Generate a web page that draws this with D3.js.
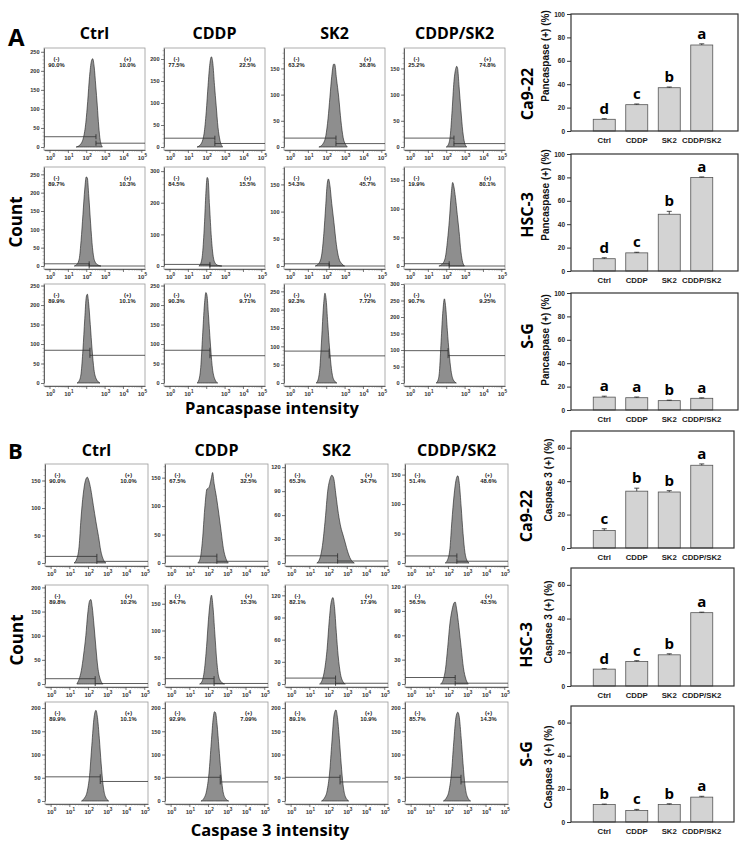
<!DOCTYPE html>
<html>
<head>
<meta charset="utf-8">
<script src="https://cdn.jsdelivr.net/npm/d3@7"></script>
<style>
  body { margin: 0; background: #fff; }
  svg { display: block; }
</style>
</head>
<body>
<svg id="fig" width="746" height="847"></svg>
<script>
// ---- data ----
const treatments = ["Ctrl", "CDDP", "SK2", "CDDP/SK2"];
const cellLines = ["Ca9-22", "HSC-3", "S-G"];

const pancaspaseMean = [[10, 22.5, 37, 73.5], [10.5, 15.5, 48.5, 80], [11, 10.5, 8, 10]];
const pancaspaseErr = [[0.5, 0.6, 0.6, 1.0], [0.8, 0.5, 2.5, 0.4], [0.8, 0.6, 0.4, 0.4]];
const pancaspaseLetters = [["d", "c", "b", "a"], ["d", "c", "b", "a"], ["a", "a", "b", "a"]];
const pancaspaseTicks = [0, 20, 40, 60, 80, 100];

const caspase3Mean = [[10.5, 34, 33.5, 49.5], [10, 14.5, 18.5, 43.5], [10.5, 7, 10.5, 15]];
const caspase3Err = [[1.0, 1.8, 0.8, 0.8], [0.3, 0.5, 0.6, 0.3], [0.3, 0.6, 0.5, 0.5]];
const caspase3Letters = [["c", "b", "b", "a"], ["d", "c", "b", "a"], ["b", "c", "b", "a"]];
const caspase3Ticks = [0, 20, 40, 60];

// histograms: [log10 intensity, count]
const histPancaspase = [
  [
    [[1.45,0],[1.65,5],[1.85,25],[1.98,65],[2.08,120],[2.18,185],[2.28,225],[2.35,232],[2.43,212],[2.52,160],[2.6,110],[2.68,55],[2.76,18],[2.88,0]],
    [[1.5,0],[1.7,6],[1.88,30],[2.0,80],[2.1,140],[2.2,190],[2.28,205],[2.36,190],[2.45,140],[2.54,95],[2.64,45],[2.75,15],[2.9,0]],
    [[1.6,0],[1.8,5],[1.98,22],[2.1,55],[2.2,95],[2.3,135],[2.4,158],[2.46,158],[2.56,130],[2.68,95],[2.8,50],[2.92,18],[3.05,5],[3.15,0]],
    [[2.0,0],[2.12,5],[2.22,22],[2.32,70],[2.42,125],[2.52,150],[2.57,154],[2.62,150],[2.7,115],[2.8,70],[2.9,30],[3.0,8],[3.12,0]]
  ],
  [
    [[1.35,0],[1.5,5],[1.62,20],[1.72,70],[1.82,140],[1.92,210],[2.0,243],[2.06,240],[2.14,190],[2.24,115],[2.34,50],[2.45,15],[2.6,4],[2.8,0]],
    [[1.6,0],[1.7,8],[1.8,40],[1.9,130],[1.98,230],[2.05,280],[2.1,275],[2.18,190],[2.28,90],[2.38,30],[2.5,8],[2.65,2],[2.85,0]],
    [[1.4,0],[1.6,5],[1.75,20],[1.87,60],[1.97,110],[2.05,150],[2.12,160],[2.2,148],[2.3,115],[2.42,80],[2.55,40],[2.68,15],[2.85,4],[3.0,0]],
    [[1.6,0],[1.8,4],[1.95,15],[2.07,45],[2.17,80],[2.27,125],[2.35,146],[2.42,138],[2.5,120],[2.6,90],[2.7,60],[2.8,25],[2.9,6],[3.0,0]]
  ],
  [
    [[1.5,0],[1.62,6],[1.72,25],[1.82,85],[1.92,165],[2.0,220],[2.06,228],[2.13,205],[2.22,150],[2.32,85],[2.42,35],[2.55,10],[2.75,0]],
    [[1.5,0],[1.6,8],[1.7,40],[1.8,120],[1.9,200],[1.98,232],[2.04,225],[2.12,175],[2.22,105],[2.32,45],[2.45,12],[2.62,0]],
    [[1.45,0],[1.55,8],[1.65,40],[1.75,120],[1.85,210],[1.93,245],[2.0,225],[2.08,165],[2.18,95],[2.28,40],[2.4,10],[2.58,0]],
    [[1.45,0],[1.55,8],[1.63,35],[1.72,125],[1.82,220],[1.9,255],[1.97,230],[2.06,160],[2.16,90],[2.26,38],[2.38,10],[2.55,0]]
  ]
];
const histPancaspaseMax = [[260, 225, 189, 189], [270, 313, 182, 173], [254, 254, 270, 300]];
const histPancaspaseStep = [[50, 50, 50, 50], [50, 100, 50, 50], [50, 50, 50, 50]];
// gate: [split log10, left marker count, right marker count]
const gatePancaspase = [
  [[2.53, 27, 10], [2.47, 20, 8], [2.53, 17, 6.5], [2.42, 17, 6.5]],
  [[2.16, 6, 0], [2.2, 5, 0], [2.16, 4, 0], [2.16, 4, 0]],
  [[2.2, 84, 71], [2.2, 84, 70], [2.16, 87, 74], [2.1, 98, 83]]
];
const pctPancaspase = [
  [["90.0%", "10.0%"], ["77.5%", "22.5%"], ["63.2%", "36.8%"], ["25.2%", "74.8%"]],
  [["89.7%", "10.3%"], ["84.5%", "15.5%"], ["54.3%", "45.7%"], ["19.9%", "80.1%"]],
  [["89.9%", "10.1%"], ["90.3%", "9.71%"], ["92.3%", "7.72%"], ["90.7%", "9.25%"]]
];
const expPancaspase = [[0, 1, 2, 3, 4, 5], [0, 1, 2, 3, 5], [0, 1, 3, 4, 5]];

const histCaspase3 = [
  [
    [[1.25,0],[1.4,8],[1.52,30],[1.62,80],[1.74,125],[1.86,150],[1.96,156],[2.04,150],[2.14,135],[2.28,105],[2.42,75],[2.56,48],[2.68,22],[2.82,6],[2.95,0]],
    [[1.45,0],[1.58,8],[1.7,40],[1.82,95],[1.94,130],[2.04,132],[2.1,138],[2.18,150],[2.24,159],[2.32,140],[2.45,115],[2.58,85],[2.7,55],[2.82,25],[2.95,8],[3.08,0]],
    [[1.4,0],[1.55,5],[1.7,22],[1.85,55],[1.98,90],[2.1,105],[2.2,110],[2.3,106],[2.42,85],[2.55,62],[2.68,45],[2.8,35],[2.92,25],[3.05,14],[3.2,5],[3.4,0]],
    [[1.85,0],[1.98,6],[2.1,25],[2.2,70],[2.32,115],[2.42,140],[2.52,148],[2.6,135],[2.7,95],[2.8,50],[2.9,18],[3.0,5],[3.12,0]]
  ],
  [
    [[1.4,0],[1.52,10],[1.64,28],[1.76,60],[1.88,100],[1.98,145],[2.08,172],[2.15,175],[2.22,160],[2.32,120],[2.42,75],[2.52,35],[2.65,10],[2.8,0]],
    [[1.55,0],[1.68,5],[1.8,25],[1.92,70],[2.02,120],[2.1,150],[2.18,166],[2.26,145],[2.36,95],[2.46,45],[2.56,15],[2.7,4],[2.88,0]],
    [[1.55,0],[1.68,5],[1.82,20],[1.95,48],[2.06,85],[2.16,110],[2.26,117],[2.34,105],[2.44,70],[2.54,38],[2.66,14],[2.8,3],[2.92,0]],
    [[1.6,0],[1.74,5],[1.86,18],[1.98,45],[2.1,75],[2.22,92],[2.32,100],[2.38,101],[2.46,92],[2.58,70],[2.7,45],[2.82,20],[2.95,6],[3.08,0]]
  ],
  [
    [[1.65,0],[1.8,6],[1.95,20],[2.08,55],[2.2,120],[2.32,180],[2.42,195],[2.5,180],[2.6,135],[2.7,80],[2.8,35],[2.92,10],[3.1,0]],
    [[1.62,0],[1.78,6],[1.92,22],[2.05,60],[2.17,125],[2.28,180],[2.34,192],[2.4,190],[2.48,165],[2.58,115],[2.68,65],[2.78,25],[2.92,6],[3.1,0]],
    [[1.65,0],[1.8,6],[1.95,22],[2.08,60],[2.2,125],[2.32,185],[2.42,196],[2.5,180],[2.6,135],[2.7,80],[2.8,35],[2.92,10],[3.1,0]],
    [[1.75,0],[1.9,6],[2.05,22],[2.18,60],[2.3,125],[2.42,180],[2.52,191],[2.6,180],[2.7,135],[2.8,80],[2.9,35],[3.02,10],[3.2,0]]
  ]
];
const histCaspase3Max = [[180, 174, 124, 168], [205, 185, 134, 122], [213, 213, 213, 213]];
const histCaspase3Step = [[50, 50, 30, 50], [50, 50, 30, 30], [50, 50, 50, 50]];
const gateCaspase3 = [
  [[2.47, 12, 3], [2.47, 12, 3], [2.51, 9, 2.5], [2.47, 12, 3]],
  [[2.38, 11, 1], [2.32, 10, 1], [2.4, 8, 1], [2.38, 8, 1]],
  [[2.65, 52, 42], [2.65, 51, 41], [2.64, 51, 41], [2.69, 51, 41]]
];
const pctCaspase3 = [
  [["90.0%", "10.0%"], ["67.5%", "32.5%"], ["65.3%", "34.7%"], ["51.4%", "48.6%"]],
  [["89.8%", "10.2%"], ["84.7%", "15.3%"], ["82.1%", "17.9%"], ["56.5%", "43.5%"]],
  [["89.9%", "10.1%"], ["92.9%", "7.09%"], ["89.1%", "10.9%"], ["85.7%", "14.3%"]]
];
const expCaspase3 = [[0, 1, 2, 3, 4, 5], [0, 1, 2, 3, 4, 5], [0, 1, 2, 3, 4, 5]];

// ---- drawing ----
const svg = d3.select("#fig");
const ARIAL = "'Liberation Sans', Arial, sans-serif";
const TITLE = "'Open Sans', 'Noto Sans', sans-serif";

function drawHist(left, top, w, h, pts, yMax, yStep, gate, pct, exps) {
  const g = svg.append("g");
  const x = d3.scaleLog().domain([Math.pow(10, -0.3), Math.pow(10, 5.2)]).range([left, left + w]);
  const y = d3.scaleLinear().domain([0, yMax]).range([top + h - 3, top]);

  g.append("rect")
    .attr("x", left).attr("y", top).attr("width", w).attr("height", h)
    .attr("fill", "none").attr("stroke", "#9a9a9a").attr("stroke-width", 0.8);

  const area = d3.area()
    .x(d => x(Math.pow(10, d[0])))
    .y0(y(0))
    .y1(d => y(d[1]))
    .curve(d3.curveMonotoneX);
  g.append("path").datum(pts)
    .attr("d", area)
    .attr("fill", "#8e8e8e").attr("stroke", "#1a1a1a").attr("stroke-width", 0.6);

  // gate markers
  const xs = x(Math.pow(10, gate[0]));
  const gateColor = "#333";
  g.append("line").attr("x1", left).attr("x2", xs).attr("y1", y(gate[1])).attr("y2", y(gate[1]))
    .attr("stroke", gateColor).attr("stroke-width", 0.8);
  g.append("line").attr("x1", xs).attr("x2", left + w).attr("y1", y(gate[2])).attr("y2", y(gate[2]))
    .attr("stroke", gateColor).attr("stroke-width", 0.8);
  [gate[1], gate[2]].forEach(v => {
    g.append("line").attr("x1", xs).attr("x2", xs).attr("y1", y(v) - 2.5).attr("y2", y(v) + 2.5)
      .attr("stroke", gateColor).attr("stroke-width", 0.9);
  });

  // y axis
  const yTicks = d3.range(0, yMax + 0.01, yStep);
  const ya = g.append("g").attr("transform", `translate(${left},0)`)
    .call(d3.axisLeft(y).tickValues(yTicks).tickSize(3).tickSizeOuter(0).tickPadding(1.5).tickFormat(d3.format("d")));
  ya.select(".domain").attr("stroke", "#444").attr("stroke-width", 0.8);
  ya.selectAll(".tick line").attr("stroke", "#444").attr("stroke-width", 0.7);
  ya.selectAll(".tick text").attr("font-family", ARIAL).attr("font-size", 5.6).attr("font-weight", "bold").attr("fill", "#333");
  g.append("g").attr("transform", `translate(${left},0)`)
    .call(d3.axisLeft(y).tickValues(d3.range(0, yMax, yStep / 5)).tickSize(1.5).tickSizeOuter(0).tickFormat(""))
    .call(a => a.select(".domain").remove())
    .selectAll("line").attr("stroke", "#666").attr("stroke-width", 0.4);

  // x axis (log)
  const majors = d3.range(0, 6).map(e => Math.pow(10, e));
  const minors = [];
  for (let e = -1; e <= 4; e++) for (let m = 2; m <= 9; m++) {
    const v = m * Math.pow(10, e);
    if (v > x.domain()[0] && v < x.domain()[1]) minors.push(v);
  }
  const xa = g.append("g").attr("transform", `translate(0,${top + h})`)
    .call(d3.axisBottom(x).tickValues(majors).tickSize(3).tickSizeOuter(0).tickFormat(""));
  xa.select(".domain").attr("stroke", "#444").attr("stroke-width", 0.8);
  xa.selectAll("line").attr("stroke", "#444").attr("stroke-width", 0.7);
  g.append("g").attr("transform", `translate(0,${top + h})`)
    .call(d3.axisBottom(x).tickValues(minors).tickSize(1.6).tickFormat(""))
    .call(a => a.select(".domain").remove())
    .selectAll("line").attr("stroke", "#666").attr("stroke-width", 0.4);
  exps.forEach(e => {
    const t = g.append("text")
      .attr("x", x(Math.pow(10, e)) + 1).attr("y", top + h + 9.5)
      .attr("text-anchor", "middle")
      .attr("font-family", ARIAL).attr("font-size", 6).attr("font-weight", "bold").attr("fill", "#333");
    t.append("tspan").text("10");
    t.append("tspan").attr("dy", -3).attr("font-size", 4.6).text(e);
  });

  // percentages
  const pctText = (tx, ty, s) => g.append("text").attr("x", tx).attr("y", ty)
    .attr("text-anchor", "middle").attr("font-family", ARIAL).attr("font-size", 5.8)
    .attr("font-weight", "bold").attr("fill", "#222").text(s);
  pctText(left + 12.5, top + 13, "(-)");
  pctText(left + 12.5, top + 19, pct[0]);
  pctText(left + 83.5, top + 13, "(+)");
  pctText(left + 83.5, top + 19, pct[1]);
}

function drawHistPanel(L, hist, maxes, steps, gates, pcts, exps) {
  for (let r = 0; r < 3; r++) for (let c = 0; c < 4; c++) {
    drawHist(L.lefts[c], L.tops[r], L.w, L.h, hist[r][c], maxes[r][c], steps[r][c], gates[r][c], pcts[r][c], exps[r]);
  }
  treatments.forEach((t, c) => {
    svg.append("text").attr("x", L.lefts[c] + L.w / 2).attr("y", L.titleY)
      .attr("text-anchor", "middle").attr("font-family", TITLE).attr("font-size", 16)
      .attr("font-weight", "bold").attr("fill", "#000").text(t);
  });
}

function drawBars(L, means, errs, letters, ticks, yMax, yLabel) {
  for (let r = 0; r < 3; r++) {
    const top = L.tops[r], zero = L.zeros[r];
    const g = svg.append("g");
    const x = d3.scaleBand().domain(treatments).range([588, 718]).paddingInner(0.323).paddingOuter(0.1615);
    const y = d3.scaleLinear().domain([0, yMax]).range([zero, top]);
    const rows = treatments.map((t, i) => ({ t, m: means[r][i], e: errs[r][i], l: letters[r][i] }));

    g.selectAll(".bar").data(rows).enter().append("rect")
      .attr("x", d => x(d.t)).attr("width", x.bandwidth())
      .attr("y", d => y(d.m)).attr("height", d => zero - y(d.m))
      .attr("fill", "#d3d3d3").attr("stroke", "#555").attr("stroke-width", 0.8);
    g.selectAll(".err").data(rows).enter().append("path")
      .attr("d", d => {
        const cx = x(d.t) + x.bandwidth() / 2, yt = y(d.m + d.e);
        return `M${cx},${y(d.m)}V${yt}M${cx - 2.5},${yt}H${cx + 2.5}`;
      })
      .attr("stroke", "#222").attr("stroke-width", 0.8).attr("fill", "none");
    g.selectAll(".letter").data(rows).enter().append("text")
      .attr("x", d => x(d.t) + x.bandwidth() / 2).attr("y", d => y(d.m + d.e) - 5)
      .attr("text-anchor", "middle").attr("font-family", TITLE).attr("font-size", 15)
      .attr("font-weight", "bold").attr("fill", "#000").text(d => d.l);

    g.append("rect").attr("x", L.x0).attr("y", top).attr("width", L.x1 - L.x0).attr("height", zero - top)
      .attr("fill", "none").attr("stroke", "#333").attr("stroke-width", 1.2);
    const ya = g.append("g").attr("transform", `translate(${L.x0},0)`)
      .call(d3.axisLeft(y).tickValues(ticks).tickSize(4).tickSizeOuter(0).tickPadding(2));
    ya.select(".domain").remove();
    ya.selectAll(".tick line").attr("stroke", "#333");
    ya.selectAll(".tick text").attr("font-family", ARIAL).attr("font-size", 6.5).attr("font-weight", "bold").attr("fill", "#222");

    g.selectAll(".xl").data(treatments).enter().append("text")
      .attr("x", d => x(d) + x.bandwidth() / 2).attr("y", zero + 12)
      .attr("text-anchor", "middle").attr("font-family", ARIAL).attr("font-size", 7.8)
      .attr("font-weight", "bold").attr("fill", "#222").text(d => d);

    g.append("text").attr("transform", `translate(${L.yLabelX},${L.yLabelC[r]}) rotate(-90)`)
      .attr("text-anchor", "middle").attr("font-family", ARIAL).attr("font-size", 10)
      .attr("font-weight", "bold").attr("fill", "#111").text(yLabel);
    g.append("text").attr("transform", `translate(${L.cellX},${L.cellC[r]}) rotate(-90)`)
      .attr("text-anchor", "middle").attr("font-family", TITLE).attr("font-size", 16)
      .attr("font-weight", "bold").attr("fill", "#000").text(cellLines[r]);
  }
}

// panel A
drawHistPanel({ lefts: [44, 164, 284, 404], tops: [48, 167, 284], w: 101, h: 102, titleY: 39 },
  histPancaspase, histPancaspaseMax, histPancaspaseStep, gatePancaspase, pctPancaspase, expPancaspase);
drawBars({ x0: 571, x1: 738, tops: [14, 154, 293], zeros: [131, 271, 410], yLabelX: 549, yLabelC: [56, 195, 340], cellX: 533, cellC: [94, 215, 336] },
  pancaspaseMean, pancaspaseErr, pancaspaseLetters, pancaspaseTicks, 100, "Pancaspase (+) (%)");

// panel B
drawHistPanel({ lefts: [45, 165, 285, 405], tops: [464, 585, 702], w: 103, h: 102, titleY: 456 },
  histCaspase3, histCaspase3Max, histCaspase3Step, gateCaspase3, pctCaspase3, expCaspase3);
drawBars({ x0: 571, x1: 734, tops: [431, 568, 706], zeros: [548, 686, 822], yLabelX: 552, yLabelC: [480, 622, 767], cellX: 532, cellC: [516, 645, 754] },
  caspase3Mean, caspase3Err, caspase3Letters, caspase3Ticks, 70, "Caspase 3 (+) (%)");

// panel letters and shared axis titles
const big = (tx, ty, s, size, rot) => svg.append("text")
  .attr("transform", `translate(${tx},${ty})${rot ? " rotate(-90)" : ""}`)
  .attr("text-anchor", rot || s.length > 1 ? "middle" : "start")
  .attr("font-family", TITLE).attr("font-size", size).attr("font-weight", "bold").attr("fill", "#000").text(s);
big(8, 46, "A", 24, false);
big(8, 459, "B", 22, false);
big(22, 222, "Count", 17, true);
big(23, 640, "Count", 17, true);
big(272, 414, "Pancaspase intensity", 16.5, false);
big(270, 836, "Caspase 3 intensity", 16.5, false);
</script>
</body>
</html>
